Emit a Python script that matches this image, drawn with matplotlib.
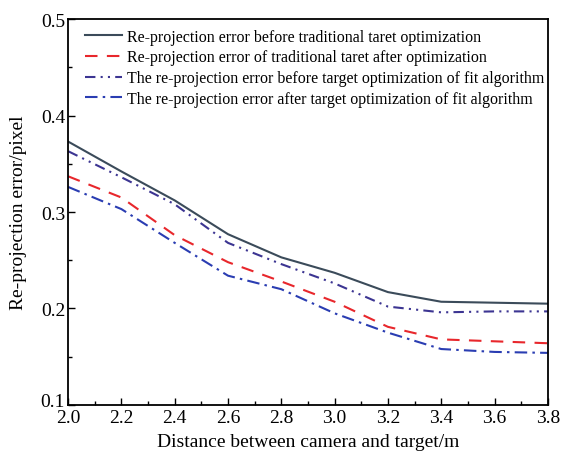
import matplotlib
matplotlib.use('Agg')
import matplotlib.pyplot as plt
from matplotlib.ticker import MultipleLocator, FuncFormatter

plt.rcParams['font.family'] = ['Liberation Serif', 'DejaVu Serif']

# Datos
distance = [2.0, 2.2, 2.4, 2.6, 2.8, 3.0, 3.2, 3.4, 3.6, 3.8]
trad_before = [0.373, 0.342, 0.312, 0.277, 0.253, 0.237, 0.217, 0.207, 0.206, 0.205]
trad_after = [0.337, 0.315, 0.276, 0.248, 0.228, 0.207, 0.181, 0.168, 0.166, 0.164]
fit_before = [0.363, 0.336, 0.308, 0.268, 0.246, 0.226, 0.202, 0.196, 0.197, 0.197]
fit_after = [0.326, 0.303, 0.268, 0.234, 0.220, 0.195, 0.175, 0.158, 0.155, 0.154]

labels = [
    'Re-projection error before traditional taret optimization',
    'Re-projection error of traditional taret after optimization',
    'The re-projection error before target optimization of fit algorithm',
    'The re-projection error after target optimization of fit algorithm',
]

fig = plt.figure(figsize=(5.63, 4.6), dpi=100)
ax = fig.add_axes([0.121, 0.1174, 0.852, 0.8391])

ax.plot(distance, trad_before, color='#3b4b5a', lw=1.5, ls='-', label=labels[0])
ax.plot(distance, trad_after, color='#e8272c', lw=1.5, ls=(0, (6, 4.5)), label=labels[1])
ax.plot(distance, fit_before, color='#3c3592', lw=1.5, ls=(0, (5, 2.5, 1, 2.5, 1, 2.5)), label=labels[2])
ax.plot(distance, fit_after, color='#2a3db2', lw=1.5, ls=(0, (6, 2.5, 1.2, 2.5)), label=labels[3])

ax.set_xlim(2.0, 3.8)
ax.set_ylim(0.1, 0.5)
ax.xaxis.set_major_locator(MultipleLocator(0.2))
ax.xaxis.set_minor_locator(MultipleLocator(0.1))
ax.yaxis.set_major_locator(MultipleLocator(0.1))
ax.yaxis.set_minor_locator(MultipleLocator(0.05))
ax.xaxis.set_major_formatter(plt.FormatStrFormatter('%.1f'))
# la etiqueta 0.1 va aparte, un poco mas arriba (como en el original)
ax.yaxis.set_major_formatter(FuncFormatter(lambda v, p: '' if abs(v - 0.1) < 1e-9 else '%.1f' % v))
ax.annotate('0.1', xy=(0, 0), xycoords='axes fraction', xytext=(-2.5, -1),
            textcoords='offset points', ha='right', va='baseline', fontsize=14)
ax.tick_params(which='both', direction='in', top=False, right=False, labelsize=14)
ax.tick_params(axis='x', pad=3)
ax.tick_params(axis='y', pad=2)
ax.tick_params(which='major', length=5, width=1)
ax.tick_params(which='minor', length=3, width=1)
for s in ax.spines.values():
    s.set_linewidth(1.3)

ax.set_xlabel('Distance between camera and target/m', fontsize=14, labelpad=5)
ax.set_ylabel('Re-projection error/pixel', fontsize=14, labelpad=10)

ax.legend(loc='upper left', bbox_to_anchor=(0.016, 1.0), frameon=False, fontsize=11.5,
          handlelength=2.3, handletextpad=0.3, labelspacing=0.3, borderaxespad=0.0,
          borderpad=0.6)

fig.savefig('out.png', dpi=100)
